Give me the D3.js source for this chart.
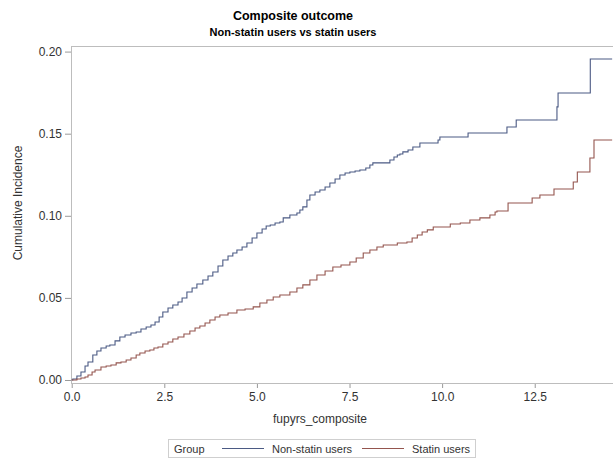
<!DOCTYPE html>
<html>
<head>
<meta charset="utf-8">
<script src="https://cdn.jsdelivr.net/npm/d3@7"></script>
<style>
  body { margin: 0; background: #fff; }
  svg { display: block; font-family: "Liberation Sans", Arial, sans-serif; }
</style>
</head>
<body>
<div id="chart"></div>
<script>
const title = 'Composite outcome';
const subtitle = 'Non-statin users vs statin users';
const xLabel = 'fupyrs_composite';
const yLabel = 'Cumulative Incidence';
const groups = ['Non-statin users', 'Statin users'];
const colors = ['#4b5a84', '#94554e'];
const xTicks = [0, 2.5, 5, 7.5, 10, 12.5];
const yTicks = [0, 0.05, 0.10, 0.15, 0.20];

// [years, cumulative incidence]
const nonStatin = [
  [0, 0], [0.03, 0.0006], [0.14, 0.0024], [0.25, 0.0049], [0.36, 0.0085], [0.44, 0.011],
  [0.57, 0.0152], [0.68, 0.0177], [0.79, 0.0195], [0.93, 0.0207], [1.03, 0.0213],
  [1.17, 0.0238], [1.30, 0.0262], [1.44, 0.0274], [1.60, 0.0286], [1.74, 0.0292],
  [1.87, 0.0311], [2.01, 0.0323], [2.14, 0.0335], [2.25, 0.0353], [2.36, 0.0384],
  [2.46, 0.0414], [2.60, 0.0438], [2.73, 0.0457], [2.87, 0.0475], [2.98, 0.0499],
  [3.11, 0.0536], [3.25, 0.056], [3.38, 0.0585], [3.54, 0.0609], [3.68, 0.0633],
  [3.81, 0.0658], [3.95, 0.0694], [4.08, 0.0731], [4.22, 0.0755], [4.35, 0.0773],
  [4.46, 0.0792], [4.60, 0.081], [4.73, 0.0834], [4.87, 0.0865], [5.00, 0.0895],
  [5.14, 0.092], [5.25, 0.0938], [5.36, 0.0944], [5.49, 0.0956], [5.62, 0.0962],
  [5.71, 0.0987], [5.89, 0.1005], [6.08, 0.1017], [6.16, 0.1035], [6.24, 0.1054],
  [6.35, 0.1096], [6.43, 0.1127], [6.57, 0.1145], [6.70, 0.1157], [6.84, 0.1175],
  [6.97, 0.12], [7.11, 0.1224], [7.24, 0.1248], [7.38, 0.1261], [7.51, 0.1267],
  [7.65, 0.1273], [7.78, 0.1279], [7.94, 0.1291], [8.05, 0.1309], [8.13, 0.1322],
  [8.59, 0.134], [8.70, 0.1358], [8.79, 0.137], [8.86, 0.1376], [8.94, 0.1389],
  [9.08, 0.1401], [9.21, 0.1419], [9.40, 0.1443], [9.89, 0.1462], [9.94, 0.148],
  [10.70, 0.1504], [11.75, 0.1541], [12.00, 0.1583], [13.10, 0.1663], [13.13, 0.1748],
  [14.00, 0.1955], [14.59, 0.1955]
];

const statin = [
  [0, 0], [0.14, 0.0006], [0.25, 0.0012], [0.36, 0.0018], [0.44, 0.003], [0.55, 0.0049],
  [0.63, 0.0061], [0.79, 0.0079], [0.93, 0.0085], [1.06, 0.0091], [1.20, 0.0104],
  [1.33, 0.011], [1.47, 0.0122], [1.60, 0.0134], [1.74, 0.0152], [1.84, 0.0164],
  [1.98, 0.0177], [2.11, 0.0183], [2.22, 0.0195], [2.33, 0.0201], [2.46, 0.0219],
  [2.60, 0.0231], [2.73, 0.025], [2.87, 0.0262], [3.03, 0.028], [3.19, 0.0298],
  [3.33, 0.0317], [3.46, 0.0329], [3.60, 0.0347], [3.73, 0.0365], [3.87, 0.0384],
  [4.00, 0.0396], [4.22, 0.0408], [4.46, 0.0426], [4.68, 0.0432], [4.90, 0.0445],
  [5.08, 0.0469], [5.27, 0.0487], [5.44, 0.0505], [5.62, 0.0518], [5.89, 0.0536],
  [6.08, 0.056], [6.24, 0.0579], [6.43, 0.0609], [6.62, 0.0639], [6.84, 0.0664],
  [7.05, 0.0688], [7.27, 0.07], [7.51, 0.0719], [7.68, 0.0743], [7.87, 0.0773],
  [8.05, 0.0792], [8.24, 0.081], [8.41, 0.0822], [8.79, 0.0834], [9.05, 0.084],
  [9.19, 0.0865], [9.33, 0.0883], [9.46, 0.0901], [9.60, 0.0914], [9.76, 0.0932],
  [10.22, 0.095], [10.49, 0.0956], [10.75, 0.0974], [11.02, 0.0987], [11.29, 0.1005],
  [11.43, 0.1023], [11.48, 0.1029], [11.78, 0.1078], [12.43, 0.1108], [12.64, 0.1127],
  [13.02, 0.1163], [13.54, 0.1206], [13.65, 0.1267], [13.99, 0.1352], [14.10, 0.1462],
  [14.59, 0.1462]
];

const series = [nonStatin, statin];

const width = 613, height = 460;
const margin = { top: 46, right: -1, bottom: 77, left: 71 };

const svg = d3.select('#chart').append('svg')
    .attr('width', width)
    .attr('height', height);

const x = d3.scaleLinear()
    .domain([-0.019, 14.64])
    .range([margin.left, width - margin.right]);

const y = d3.scaleLinear()
    .domain([-0.00183, 0.2034])
    .range([height - margin.bottom, margin.top]);

svg.append('clipPath').attr('id', 'plot-clip')
  .append('rect')
    .attr('x', margin.left).attr('y', margin.top)
    .attr('width', width - margin.right - margin.left)
    .attr('height', height - margin.bottom - margin.top);

// titles
svg.append('text')
    .attr('x', 293).attr('y', 20)
    .attr('text-anchor', 'middle')
    .style('font-size', '12.5px').style('font-weight', 'bold')
    .text(title);
svg.append('text')
    .attr('x', 293).attr('y', 36)
    .attr('text-anchor', 'middle')
    .style('font-size', '11px').style('font-weight', 'bold')
    .text(subtitle);

// axes
const yAxis = svg.append('g')
    .attr('transform', `translate(${margin.left},0)`)
    .call(d3.axisLeft(y).tickValues(yTicks).tickFormat(d3.format('.2f')).tickSize(6).tickPadding(3));
const xAxis = svg.append('g')
    .attr('transform', `translate(0,${height - margin.bottom})`)
    .call(d3.axisBottom(x).tickValues(xTicks).tickFormat(d3.format('.1f')).tickSize(5).tickPadding(4));

[xAxis, yAxis].forEach(a => {
    a.select('.domain').remove();
    a.selectAll('line').attr('stroke', '#999');
    a.selectAll('text').attr('fill', '#333').style('font-size', '12px')
        .style('font-family', '"Liberation Sans", Arial, sans-serif');
});

// frame
svg.append('rect')
    .attr('x', margin.left + 0.5).attr('y', margin.top + 0.5)
    .attr('width', width - margin.right - margin.left)
    .attr('height', height - margin.bottom - margin.top)
    .attr('fill', 'none')
    .attr('stroke', '#bdbdbd');

// axis labels
svg.append('text')
    .attr('x', 320).attr('y', 423)
    .attr('text-anchor', 'middle')
    .attr('fill', '#333')
    .style('font-size', '12px')
    .text(xLabel);
svg.append('text')
    .attr('transform', 'translate(22,203) rotate(-90)')
    .attr('text-anchor', 'middle')
    .attr('fill', '#333')
    .style('font-size', '12px')
    .text(yLabel);

// curves
const line = d3.line()
    .x(d => x(d[0]))
    .y(d => y(d[1]))
    .curve(d3.curveStepAfter);

svg.append('g').attr('clip-path', 'url(#plot-clip)')
  .selectAll('path')
  .data(series)
  .enter()
  .append('path')
    .attr('fill', 'none')
    .attr('stroke', (d, i) => colors[i])
    .attr('stroke-width', 1.1)
    .attr('d', line);

// legend
const legend = svg.append('g');
legend.append('rect')
    .attr('x', 168.5).attr('y', 439.5)
    .attr('width', 307).attr('height', 18)
    .attr('fill', 'none')
    .attr('stroke', '#cfcfcf');
legend.append('text')
    .attr('x', 174).attr('y', 453)
    .attr('fill', '#333')
    .style('font-size', '11px')
    .text('Group');
const legendX = [222, 362];
groups.forEach((g, i) => {
    legend.append('line')
        .attr('x1', legendX[i]).attr('x2', legendX[i] + 42)
        .attr('y1', 448.5).attr('y2', 448.5)
        .attr('stroke', colors[i]).attr('stroke-width', 1);
    legend.append('text')
        .attr('x', legendX[i] + 50).attr('y', 453)
        .attr('fill', '#333')
        .style('font-size', '11px')
        .text(g);
});
</script>
</body>
</html>
